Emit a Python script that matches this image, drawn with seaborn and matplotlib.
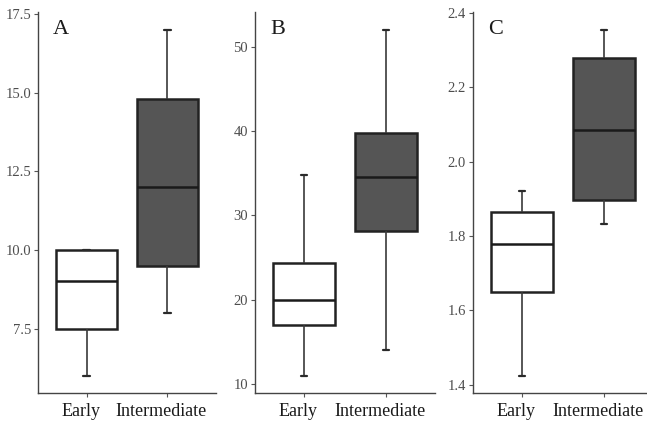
import numpy as np
import pandas as pd
import matplotlib
matplotlib.use("Agg")
import matplotlib.pyplot as plt
from matplotlib.ticker import FormatStrFormatter
from matplotlib.transforms import ScaledTranslation
import seaborn as sns

# ---- data: five-number summaries (min, q1, median, q3, max) ----
stages = ["Early", "Intermediate"]
panel_labels = ["A", "B", "C"]

a_early = [6.0, 7.5, 9.0, 10.0, 10.0]
a_inter = [8.0, 9.5, 12.0, 14.8, 17.0]
b_early = [11.0, 17.0, 20.0, 24.4, 34.8]
b_inter = [14.0, 28.2, 34.5, 39.8, 52.0]
c_early = [1.424, 1.649, 1.778, 1.864, 1.920]
c_inter = [1.832, 1.897, 2.085, 2.278, 2.355]

a_ticks = [7.5, 10.0, 12.5, 15.0, 17.5]
b_ticks = [10, 20, 30, 40, 50]
c_ticks = [1.4, 1.6, 1.8, 2.0, 2.2, 2.4]

panels = [
    (a_early, a_inter, a_ticks, "%.1f"),
    (b_early, b_inter, b_ticks, "%d"),
    (c_early, c_inter, c_ticks, "%.1f"),
]

# ---- style ----
sns.set_theme(style="ticks")
plt.rcParams["font.family"] = ["Liberation Serif", "DejaVu Serif"]
fills = {"Early": "white", "Intermediate": "#555555"}

# axes rectangles in figure fraction (left, bottom, width, height)
positions = [
    (0.0587, 0.0665, 0.2751, 0.904),
    (0.3941, 0.0665, 0.2782, 0.904),
    (0.7311, 0.0665, 0.2782, 0.904),
]

fig = plt.figure(figsize=(6.47, 4.21), dpi=100)
# x labels in the original sit a little left of their ticks
label_shift = ScaledTranslation(-0.06, 0, fig.dpi_scale_trans)

for (early, inter, ticks, fmt), pos, letter in zip(panels, positions, panel_labels):
    ax = fig.add_axes(pos)
    df = pd.DataFrame({
        "stage": np.repeat(stages, [len(early), len(inter)]),
        "value": early + inter,
    })
    sns.boxplot(
        data=df, x="stage", y="value", hue="stage", order=stages,
        palette=fills, legend=False, width=0.75, whis=np.inf,
        linecolor="#222222", capwidths=0.08, ax=ax,
        boxprops=dict(linewidth=1.8),
        whiskerprops=dict(linewidth=1.2, color="#3a3a3a"),
        capprops=dict(linewidth=1.6, color="#2a2a2a"),
        medianprops=dict(linewidth=1.8, color="#1a1a1a"),
    )

    # ggplot-like expansion: 5% of data range on y, 0.6 units on discrete x
    vals = df["value"]
    rng = vals.max() - vals.min()
    ax.set_ylim(vals.min() - 0.05 * rng, vals.max() + 0.05 * rng)
    ax.set_xlim(-0.6, 1.6)
    ax.set_yticks(ticks)
    ax.yaxis.set_major_formatter(FormatStrFormatter(fmt))

    ax.set_xlabel("")
    ax.set_ylabel("")
    sns.despine(ax=ax)
    for side in ["left", "bottom"]:
        ax.spines[side].set_linewidth(1.0)
        ax.spines[side].set_color("#444444")
    ax.tick_params(axis="y", length=3, width=0.8, color="#555555",
                   labelsize=10.5, labelcolor="#4d4d4d", pad=2)
    ax.tick_params(axis="x", length=3, width=0.8, color="#555555",
                   labelsize=13, labelcolor="#1a1a1a", pad=4)
    for lab in ax.get_xticklabels():
        lab.set_transform(lab.get_transform() + label_shift)

    ax.text(0.085, 0.956, letter, transform=ax.transAxes,
            fontsize=16, va="center", ha="left", color="#1a1a1a")

fig.savefig("out.png", dpi=100)
